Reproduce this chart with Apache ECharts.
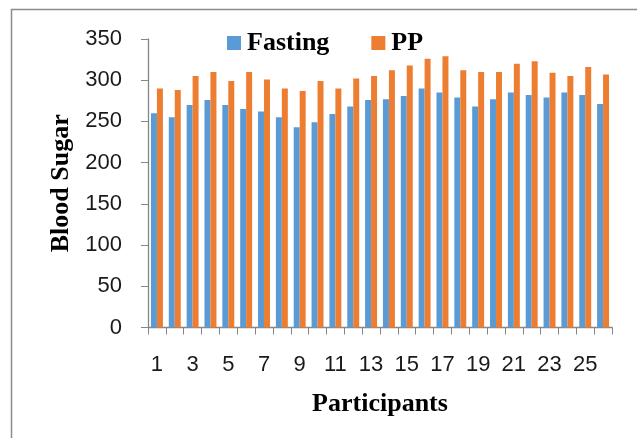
<!DOCTYPE html>
<html>
<head>
<meta charset="utf-8">
<script src="https://cdn.jsdelivr.net/npm/echarts@6/dist/echarts.min.js"></script>
<style>
  html, body { margin: 0; padding: 0; background: #fff; }
  #chart { width: 637px; height: 438px; }
</style>
</head>
<body>
<div id="chart"></div>
<script>
// Participants 1..26
const participants = ['1','2','3','4','5','6','7','8','9','10','11','12','13','14','15','16','17','18','19','20','21','22','23','24','25','26'];
// Blood sugar readings
const fasting = [260, 255, 270, 276, 270, 265, 262, 255, 243, 249, 259, 268, 276, 277, 281, 290, 285, 279, 268, 277, 285, 282, 279, 285, 282, 271];
const pp      = [290, 288, 305, 310, 299, 310, 301, 290, 287, 299, 290, 302, 305, 312, 318, 326, 329, 312, 310, 310, 320, 323, 309, 305, 316, 307];
const seriesNames = ['Fasting', 'PP'];

const axisGray = '#868686';
const serif = '"Liberation Serif", "Times New Roman", serif';
const sans = '"Liberation Sans", Arial, sans-serif';

const chart = echarts.init(document.getElementById('chart'), null, { renderer: 'canvas' });
chart.setOption({
  animation: false,
  backgroundColor: '#fff',
  color: ['#5B9BD5', '#ED7D31'],
  graphic: [
    { type: 'polyline', silent: true,
      shape: { points: [[11.5, 438], [11.5, 9.5], [637, 9.5]] },
      style: { stroke: '#8c8c8c', lineWidth: 1.5, fill: null } }
  ],
  legend: {
    data: seriesNames,
    left: 222, top: 25,
    itemWidth: 14, itemHeight: 14, itemGap: 42,
    icon: 'rect',
    textStyle: { fontFamily: serif, fontWeight: 'bold', fontSize: 26, color: '#000', padding: [0, 0, 0, 1] }
  },
  grid: { left: 148, right: 25, top: 39, bottom: 110.5, containLabel: false },
  xAxis: {
    type: 'category',
    data: participants,
    name: 'Participants',
    nameLocation: 'middle',
    nameGap: 64,
    nameTextStyle: { fontFamily: serif, fontWeight: 'bold', fontSize: 26, color: '#000' },
    axisLine: { lineStyle: { color: axisGray, width: 1.3 } },
    axisTick: { show: true, alignWithLabel: false, interval: 0, length: 7, lineStyle: { color: axisGray } },
    axisLabel: { interval: 1, margin: 26, fontFamily: sans, fontSize: 22, color: '#1a1a1a' }
  },
  yAxis: {
    type: 'value',
    min: 0, max: 350, interval: 50,
    name: 'Blood Sugar',
    nameLocation: 'middle',
    nameGap: 72,
    nameTextStyle: { fontFamily: serif, fontWeight: 'bold', fontSize: 26, color: '#000' },
    axisLine: { show: true, lineStyle: { color: axisGray, width: 1.3 } },
    axisTick: { show: true, length: 7, lineStyle: { color: axisGray } },
    axisLabel: { margin: 26, fontFamily: sans, fontSize: 22, color: '#1a1a1a' },
    splitLine: { show: false }
  },
  series: [
    { name: seriesNames[0], type: 'bar', data: fasting, barGap: '0%', barCategoryGap: '33%' },
    { name: seriesNames[1], type: 'bar', data: pp, barGap: '0%', barCategoryGap: '33%' }
  ]
});
</script>
</body>
</html>
